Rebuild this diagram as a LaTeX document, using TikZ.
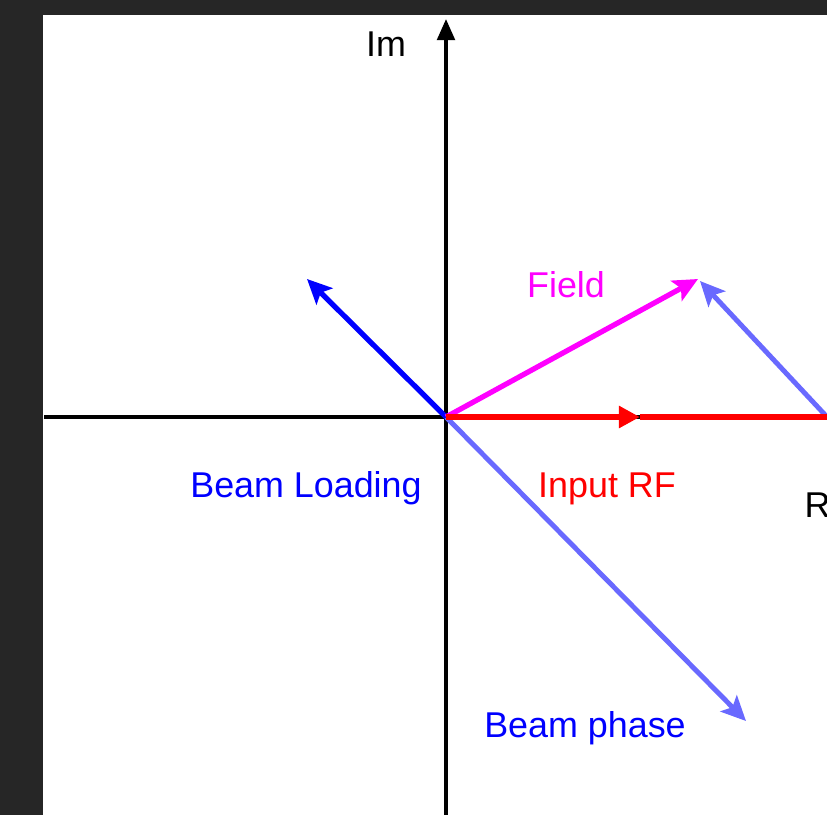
\documentclass[tikz,border=0pt]{standalone}
\usepackage{fontspec}
\setmainfont{Liberation Sans}
\usetikzlibrary{arrows.meta}
\definecolor{bg}{RGB}{38,38,38}
\definecolor{dith}{RGB}{105,105,255}
\definecolor{mag}{RGB}{255,0,255}
\definecolor{pblue}{RGB}{0,0,255}
\definecolor{pred}{RGB}{255,0,0}
\begin{document}
\begin{tikzpicture}[x=0.01cm,y=-0.01cm,
  lbl/.style={font=\fontsize{10.2}{12}\selectfont, anchor=base, inner sep=0pt},
  axis/.style={black, line width=1pt},
  vec/.style={line width=1.5pt, -{Stealth[length=7pt,width=6.5pt,inset=1.5pt]}},
  dvec/.style={dith, line width=1.4pt, -{Stealth[length=7pt,width=6.5pt,inset=1.5pt]}}]
\useasboundingbox (0,0) rectangle (827,815);
\fill[bg] (0,0) rectangle (827,815);
\fill[white] (43,15) rectangle (827,815);
\clip (43,15) rectangle (827,815);
\coordinate (O) at (446,417);
\coordinate (xl) at (44,417);
\coordinate (xr) at (827,417);
\coordinate (yb) at (446,815);
\coordinate (yt) at (446,19);
\coordinate (bl) at (307,279);
\coordinate (fd) at (698,279);
\coordinate (rfmid) at (640,417);
\coordinate (rfend) at (850,417);
\coordinate (rfstart) at (828,418);
\coordinate (bp) at (746,721);
\coordinate (ft) at (700,281);
% axes
\draw[axis] (xl) -- (xr);
\draw[axis, -{Triangle[length=6pt,width=5pt]}] (yb) -- (yt);
% vectors
\draw[dvec] (O) -- (bp);
\draw[dvec] (rfstart) -- (ft);
\draw[vec, pblue] (O) -- (bl);
\draw[vec, mag] (O) -- (fd);
\draw[pred, line width=1.75pt, -{Triangle[length=6pt,width=6pt]}] (O) -- (rfmid);
\draw[pred, line width=1.75pt, -{Triangle[length=6pt,width=6pt]}] (rfmid) -- (rfend);
% labels
\node[lbl] (im) at (386,57) {Im};
\node[lbl, anchor=base west] (re) at (804,517) {Re};
\node[lbl, mag] (field) at (566,297) {Field};
\node[lbl, pblue] (bload) at (306,497) {Beam Loading};
\node[lbl, pred] (inrf) at (607,497) {Input RF};
\node[lbl, pblue] (bphase) at (585,737) {Beam phase};
\end{tikzpicture}
\end{document}
